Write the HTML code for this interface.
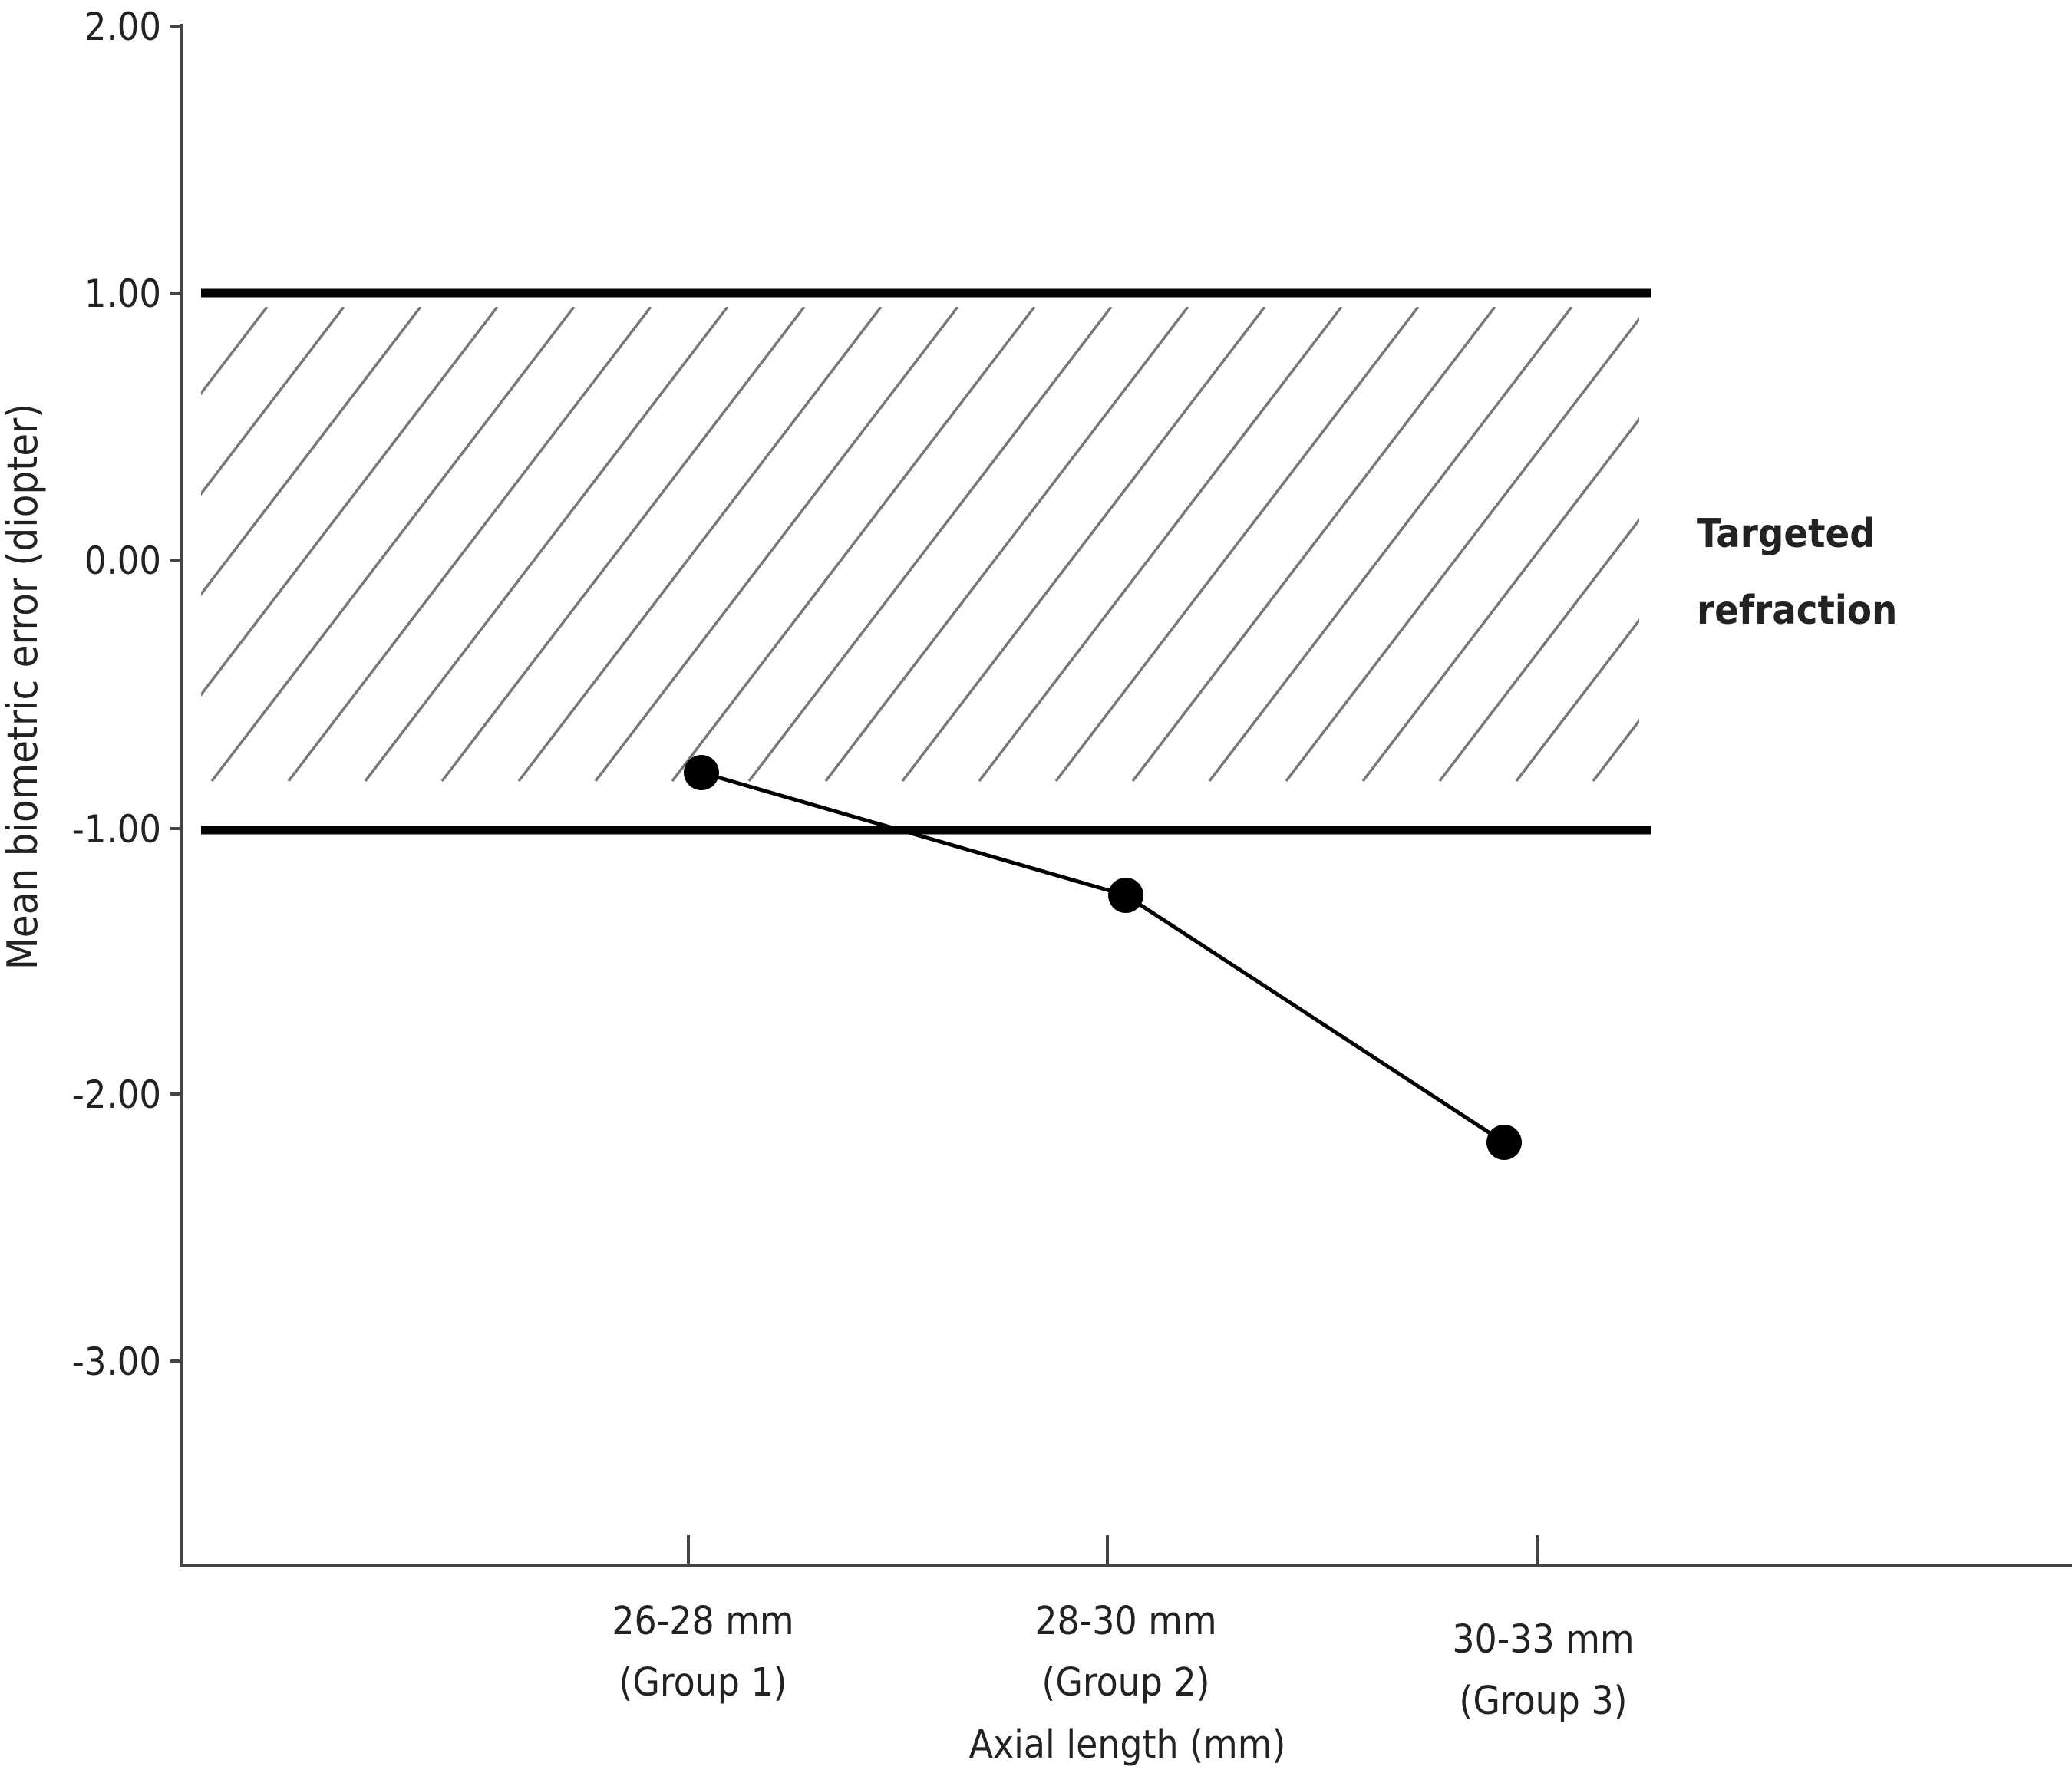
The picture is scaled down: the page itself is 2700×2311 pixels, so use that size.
<!DOCTYPE html>
<html><head><style>
html,body{margin:0;padding:0;background:#fff;}
svg{display:block;}
text{font-family:"DejaVu Sans Condensed","Liberation Sans",sans-serif;fill:#222;}
</style></head><body>
<svg width="2700" height="2311" viewBox="0 0 2700 2311" xmlns="http://www.w3.org/2000/svg">
<defs><clipPath id="c"><rect x="262" y="400" width="1874" height="620"/></clipPath></defs>
<g id="h" clip-path="url(#c)" stroke="#777" stroke-width="3.5"></g>
<line x1="236" y1="31" x2="236" y2="2042" stroke="#444" stroke-width="4"/>
<line x1="234" y1="2040" x2="2700" y2="2040" stroke="#444" stroke-width="4"/>
<g stroke="#444" stroke-width="4">
<line x1="222" y1="34" x2="236" y2="34"/>
<line x1="222" y1="382" x2="236" y2="382"/>
<line x1="222" y1="730" x2="236" y2="730"/>
<line x1="222" y1="1080" x2="236" y2="1080"/>
<line x1="222" y1="1426" x2="236" y2="1426"/>
<line x1="222" y1="1774" x2="236" y2="1774"/>
<line x1="897" y1="2001" x2="897" y2="2040"/>
<line x1="1443" y1="2001" x2="1443" y2="2040"/>
<line x1="2003" y1="2001" x2="2003" y2="2040"/>
</g>
<g font-size="50" text-anchor="end">
<text x="210" y="52">2.00</text>
<text x="210" y="400">1.00</text>
<text x="210" y="748">0.00</text>
<text x="210" y="1098">-1.00</text>
<text x="210" y="1444">-2.00</text>
<text x="210" y="1792">-3.00</text>
</g>
<text transform="translate(48,895) rotate(-90)" font-size="54" text-anchor="middle">Mean biometric error (diopter)</text>
<line x1="262" y1="382" x2="2152" y2="382" stroke="#000" stroke-width="11"/>
<line x1="262" y1="1082" x2="2152" y2="1082" stroke="#000" stroke-width="11"/>
<polyline points="914,1007 1467,1167 1960,1489" fill="none" stroke="#000" stroke-width="5"/>
<circle cx="914" cy="1007" r="23" fill="#000"/>
<circle cx="1467" cy="1167" r="23" fill="#000"/>
<circle cx="1960" cy="1489" r="23" fill="#000"/>
<g font-size="51" text-anchor="middle">
<text x="916" y="2130">26-28 mm</text>
<text x="916" y="2210">(Group 1)</text>
<text x="1467" y="2130">28-30 mm</text>
<text x="1467" y="2210">(Group 2)</text>
<text x="1469" y="2291">Axial length (mm)</text>
<text x="2011" y="2154">30-33 mm</text>
<text x="2011" y="2234">(Group 3)</text>
</g>
<text x="2211" y="713" font-size="52" font-weight="bold" fill="#111">Targeted</text>
<text x="2211" y="813" font-size="52" font-weight="bold" fill="#111">refraction</text>
</svg>
<script>
var g=document.getElementById('h'),s='';
for(var k=-6;k<26;k++){var xt=348+100*k;var xb=xt-472;s+='<line x1="'+xt+'" y1="400" x2="'+xb+'" y2="1018"/>';}
g.innerHTML=s;
</script>
</body></html>
